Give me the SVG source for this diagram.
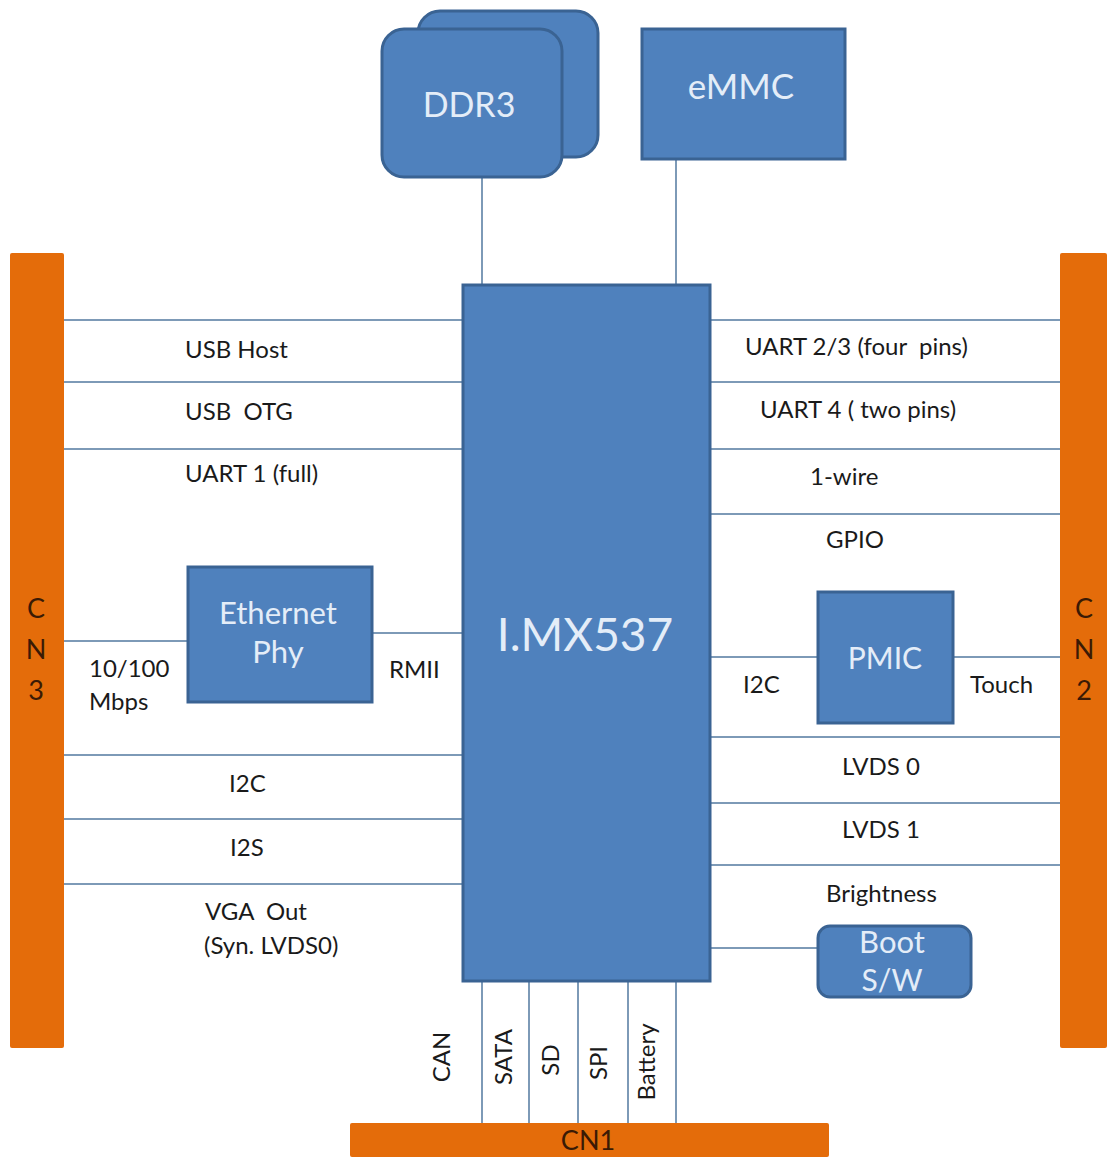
<svg xmlns="http://www.w3.org/2000/svg" width="1107" height="1157" viewBox="0 0 1107 1157">
<style>
.box{fill:#4f81bd;stroke:#3a6393;stroke-width:3}
.bar{fill:#e46c0a}
.ln{stroke:#52789f;stroke-width:1.5;fill:none}
.lbl{font-family:Lato,"Liberation Sans",sans-serif;font-size:24px;fill:#1a1a1a;white-space:pre}
.btx{font-family:Lato,"Liberation Sans",sans-serif;fill:#e4edf8;text-anchor:middle}
.ctx{font-family:Lato,"Liberation Sans",sans-serif;font-size:27px;fill:#3a1a05;text-anchor:middle}
</style>
<rect width="1107" height="1157" fill="#ffffff"/>
<g id="connectors">
<line class="ln" x1="482" y1="177" x2="482" y2="285"/>
<line class="ln" x1="676" y1="159" x2="676" y2="285"/>
<line class="ln" x1="64" y1="320" x2="463" y2="320"/>
<line class="ln" x1="64" y1="382" x2="463" y2="382"/>
<line class="ln" x1="64" y1="449" x2="463" y2="449"/>
<line class="ln" x1="64" y1="641" x2="188" y2="641"/>
<line class="ln" x1="372" y1="633" x2="463" y2="633"/>
<line class="ln" x1="64" y1="755" x2="463" y2="755"/>
<line class="ln" x1="64" y1="819" x2="463" y2="819"/>
<line class="ln" x1="64" y1="884" x2="463" y2="884"/>
<line class="ln" x1="710" y1="320" x2="1060" y2="320"/>
<line class="ln" x1="710" y1="382" x2="1060" y2="382"/>
<line class="ln" x1="710" y1="449" x2="1060" y2="449"/>
<line class="ln" x1="710" y1="514" x2="1060" y2="514"/>
<line class="ln" x1="710" y1="657" x2="818" y2="657"/>
<line class="ln" x1="953" y1="657" x2="1060" y2="657"/>
<line class="ln" x1="710" y1="737" x2="1060" y2="737"/>
<line class="ln" x1="710" y1="803" x2="1060" y2="803"/>
<line class="ln" x1="710" y1="865" x2="1060" y2="865"/>
<line class="ln" x1="710" y1="948" x2="818" y2="948"/>
<line class="ln" x1="482" y1="981" x2="482" y2="1123"/>
<line class="ln" x1="529" y1="981" x2="529" y2="1123"/>
<line class="ln" x1="578" y1="981" x2="578" y2="1123"/>
<line class="ln" x1="628" y1="981" x2="628" y2="1123"/>
<line class="ln" x1="676" y1="981" x2="676" y2="1123"/>
</g>
<g id="labels">
<text class="lbl" x="185" y="358">USB Host</text>
<text class="lbl" x="185" y="420">USB  OTG</text>
<text class="lbl" x="185" y="482">UART 1 (full)</text>
<text class="lbl" x="89" y="677">10/100</text>
<text class="lbl" x="89" y="710">Mbps</text>
<text class="lbl" x="389" y="678">RMII</text>
<text class="lbl" x="229" y="792">I2C</text>
<text class="lbl" x="230" y="856">I2S</text>
<text class="lbl" x="205" y="920">VGA  Out</text>
<text class="lbl" x="204" y="954">(Syn. LVDS0)</text>
<text class="lbl" x="745" y="355">UART 2/3 (four  pins)</text>
<text class="lbl" x="760" y="418">UART 4 ( two pins)</text>
<text class="lbl" x="810" y="485">1-wire</text>
<text class="lbl" x="826" y="548">GPIO</text>
<text class="lbl" x="743" y="693">I2C</text>
<text class="lbl" x="970" y="693">Touch</text>
<text class="lbl" x="842" y="775">LVDS 0</text>
<text class="lbl" x="842" y="838">LVDS 1</text>
<text class="lbl" x="826" y="902">Brightness</text>
<text class="lbl" text-anchor="middle" transform="translate(450,1057) rotate(-90)">CAN</text>
<text class="lbl" text-anchor="middle" transform="translate(512,1057) rotate(-90)">SATA</text>
<text class="lbl" text-anchor="middle" transform="translate(559,1060) rotate(-90)">SD</text>
<text class="lbl" text-anchor="middle" transform="translate(607,1063) rotate(-90)">SPI</text>
<text class="lbl" text-anchor="middle" transform="translate(655,1062) rotate(-90)">Battery</text>
</g>
<g id="ddr3">
<rect class="box" x="418" y="11" width="180" height="146" rx="22"/>
<rect class="box" x="382" y="29" width="180" height="148" rx="22"/>
<text class="btx" x="469" y="117" font-size="34">DDR3</text>
</g>
<g id="emmc">
<rect class="box" x="642" y="29" width="203" height="130"/>
<text class="btx" x="741" y="99" font-size="35">eMMC</text>
</g>
<g id="imx537">
<rect class="box" x="463" y="285" width="247" height="696"/>
<text class="btx" x="585" y="651" font-size="46">I.MX537</text>
</g>
<g id="ethernet-phy">
<rect class="box" x="188" y="567" width="184" height="135"/>
<text class="btx" x="278" y="624" font-size="31">Ethernet</text>
<text class="btx" x="278" y="663" font-size="31">Phy</text>
</g>
<g id="pmic">
<rect class="box" x="818" y="592" width="135" height="131"/>
<text class="btx" x="885" y="669" font-size="30">PMIC</text>
</g>
<g id="boot-sw">
<rect class="box" x="818" y="926" width="153" height="71" rx="12"/>
<text class="btx" x="892" y="953" font-size="31">Boot</text>
<text class="btx" x="892" y="991" font-size="30">S/W</text>
</g>
<g id="cn3">
<rect class="bar" x="10" y="253" width="54" height="795" rx="2"/>
<text class="ctx" x="36" y="618">C</text>
<text class="ctx" x="36" y="659">N</text>
<text class="ctx" x="36" y="700">3</text>
</g>
<g id="cn2">
<rect class="bar" x="1060" y="253" width="47" height="795" rx="2"/>
<text class="ctx" x="1084" y="618">C</text>
<text class="ctx" x="1084" y="659">N</text>
<text class="ctx" x="1084" y="700">2</text>
</g>
<g id="cn1">
<rect class="bar" x="350" y="1123" width="479" height="34" rx="2"/>
<text class="ctx" x="588" y="1150" font-size="26">CN1</text>
</g>
</svg>
